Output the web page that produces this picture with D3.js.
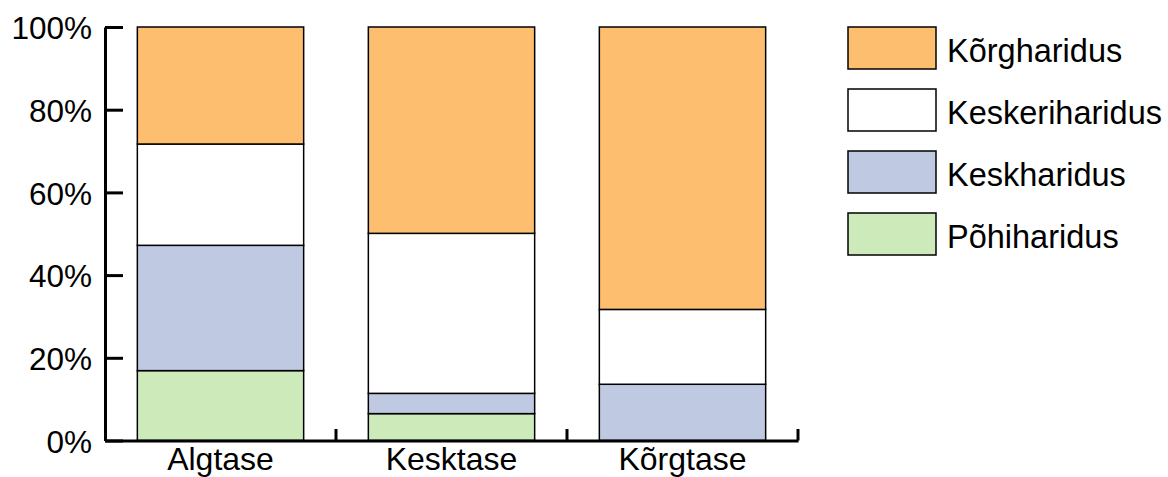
<!DOCTYPE html>
<html lang="et">
<head>
  <meta charset="UTF-8" />
  <title>Haridustase</title>
  <script src="https://d3js.org/d3.v7.min.js"></script>
  <style>
    body { margin: 0; background: #fff; }
    svg { display: block; font-family: "Liberation Sans", Arial, sans-serif; }
  </style>
</head>
<body>
  <svg id="chart" width="1168" height="477"></svg>
  <script>
    // andmed (protsent, alt üles)
    const categories = ["Algtase", "Kesktase", "Kõrgtase"];
    const series = ["Põhiharidus", "Keskharidus", "Keskeriharidus", "Kõrgharidus"];
    const pohiharidus = [16.9, 6.5, 0];
    const keskharidus = [30.3, 4.9, 13.6];
    const keskeriharidus = [24.5, 38.7, 18.1];
    const korgharidus = [28.3, 49.9, 68.3];
    const yTicks = [0, 20, 40, 60, 80, 100];
    const colors = ["#cdeabb", "#bfc9e2", "#ffffff", "#fdbe70"];

    const values = [pohiharidus, keskharidus, keskeriharidus, korgharidus];
    const rows = categories.map((c, i) => {
      const r = { cat: c };
      series.forEach((s, j) => r[s] = values[j][i]);
      return r;
    });

    const svg = d3.select("#chart");
    const x = d3.scaleBand().domain(categories).range([105, 798]).padding(0);
    const y = d3.scaleLinear().domain([0, 100]).range([440.5, 27]);
    const color = d3.scaleOrdinal().domain(series).range(colors);

    const stacked = d3.stack().keys(series)(rows);
    const inset = x.bandwidth() * 0.14;

    // tulbad
    svg.append("g").selectAll("g")
      .data(stacked).join("g")
      .attr("fill", d => color(d.key))
      .selectAll("rect")
      .data(d => d).join("rect")
      .attr("x", d => x(d.data.cat) + inset)
      .attr("width", x.bandwidth() - 2 * inset)
      .attr("y", d => y(d[1]))
      .attr("height", d => y(d[0]) - y(d[1]))
      .attr("stroke", "#000")
      .attr("stroke-width", 1.5);

    // y-telg
    const yAxis = svg.append("g")
      .attr("transform", "translate(105,0)")
      .call(d3.axisLeft(y).tickValues(yTicks).tickFormat(d => d + "%")
        .tickSizeInner(-18).tickSizeOuter(0).tickPadding(13));
    yAxis.select(".domain").attr("stroke-width", 3);
    yAxis.selectAll(".tick line").attr("stroke-width", 3);
    yAxis.selectAll("text").attr("font-size", 31.5).attr("font-family", "Liberation Sans, Arial, sans-serif")
      .attr("fill", "#000").attr("dy", "0.37em");

    // x-telg
    const xAxis = svg.append("g")
      .attr("transform", "translate(0,440.5)")
      .call(d3.axisBottom(x).tickSize(0).tickPadding(7));
    xAxis.select(".domain").attr("stroke-width", 3);
    xAxis.selectAll("text").attr("font-size", 32).attr("font-family", "Liberation Sans, Arial, sans-serif")
      .attr("fill", "#000");
    const bounds = categories.slice(1).map(c => x(c)).concat([x.range()[1]]);
    svg.append("g").selectAll("line")
      .data(bounds).join("line")
      .attr("x1", d => d).attr("x2", d => d)
      .attr("y1", 440.5).attr("y2", 429)
      .attr("stroke", "#000").attr("stroke-width", 3);

    // legend
    const legend = svg.append("g").attr("transform", "translate(848,27)");
    const legItems = legend.selectAll("g")
      .data(series.slice().reverse()).join("g")
      .attr("transform", (d, i) => `translate(0,${i * 62})`);
    legItems.append("rect")
      .attr("width", 88).attr("height", 42)
      .attr("fill", d => color(d))
      .attr("stroke", "#000").attr("stroke-width", 1.5);
    legItems.append("text")
      .attr("x", 99).attr("y", 34.5)
      .attr("font-size", 32.5)
      .text(d => d);
  </script>
</body>
</html>
